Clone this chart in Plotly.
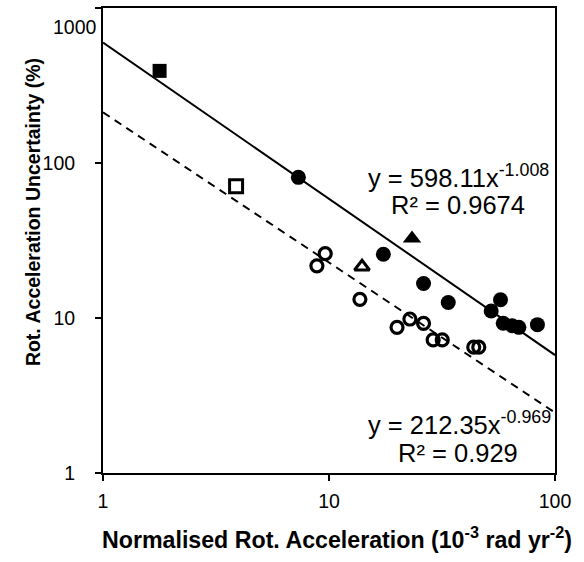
import plotly.graph_objects as go

# ---- data ----
filled_circle_x = [7.32, 17.4, 26.2, 33.7, 57.4, 52.2, 59.0, 64.7, 69.2, 83.6]
filled_circle_y = [80.8, 25.8, 16.7, 12.6, 13.1, 11.1, 9.24, 8.92, 8.70, 9.06]

open_circle_x = [9.62, 8.84, 13.7, 20.0, 22.8, 26.2, 28.9, 31.7, 43.7, 46.0]
open_circle_y = [26.0, 21.7, 13.2, 8.70, 9.85, 9.24, 7.22, 7.22, 6.48, 6.48]

filled_square_x = [1.78]
filled_square_y = [393]
open_square_x = [3.88]
open_square_y = [70.8]

filled_triangle_x = [23.3]
filled_triangle_y = [32.6]
open_triangle_x = [14.0]
open_triangle_y = [21.4]

# power-law fits  y = a * x^b
fit_filled_a, fit_filled_b = 598.11, -1.008
fit_open_a, fit_open_b = 212.35, -0.969
fit_x = [1, 100]

x_tickvals = [1, 10, 100]
x_ticktext = ["1", "10", "100"]
y_tickvals = [1, 10, 100, 1000]
y_ticktext = ["1", "10", "100", ""]

FONT = "Liberation Sans, Arial, Helvetica, sans-serif"

fig = go.Figure()

fig.add_trace(go.Scatter(
    x=fit_x, y=[fit_filled_a * v ** fit_filled_b for v in fit_x],
    mode="lines", line=dict(color="black", width=2), showlegend=False))
fig.add_trace(go.Scatter(
    x=fit_x, y=[fit_open_a * v ** fit_open_b for v in fit_x],
    mode="lines", line=dict(color="black", width=2, dash="8px,6px"), showlegend=False))

def pts(x, y, symbol, size, lw=0):
    fig.add_trace(go.Scatter(
        x=x, y=y, mode="markers", showlegend=False,
        marker=dict(symbol=symbol, size=size, color="black",
                    line=dict(color="black", width=lw))))

pts(open_circle_x, open_circle_y, "circle-open", 12, 3.2)
pts(filled_circle_x, filled_circle_y, "circle", 15)
pts(filled_square_x, filled_square_y, "square", 14)
pts(open_square_x, open_square_y, "square-open", 13, 3)
pts(filled_triangle_x, filled_triangle_y, "triangle-up", 16)
pts(open_triangle_x, open_triangle_y, "triangle-up-open", 13, 3)

L, R, T, B = 103, 29, 6, 89
W, H = 584, 562
pw, ph = W - L - R, H - T - B

def px(x):
    return (x - L) / pw

def py(y):
    return (H - B - y) / ph

anns = [
    ("y = 598.11x<sup>-1.008</sup>", 458, 175, 25.5, 0),
    ("R² = 0.9674", 458, 204, 25.5, 0),
    ("y = 212.35x<sup>-0.969</sup>", 459, 423, 25.5, 0),
    ("R² = 0.929", 458, 453, 25.5, 0),
    ("1000", 75, 25, 19.5, 0),
    ("<b>Normalised Rot. Acceleration (10<sup>-3</sup> rad yr<sup>-2</sup>)</b>", 337, 538, 23.2, 0),
    ("<b>Rot. Acceleration Uncertainty (%)</b>", 33, 211, 19.5, -90),
]
annotations = []
for text, x, y, size, ang in anns:
    annotations.append(dict(
        text=text, x=px(x), y=py(y), xref="paper", yref="paper",
        xanchor="center", yanchor="middle", showarrow=False, textangle=ang,
        font=dict(family=FONT, size=size, color="black")))

axis_common = dict(
    type="log", showgrid=False, zeroline=False, showline=True, mirror=True,
    linecolor="black", linewidth=2, ticks="outside", ticklen=6, tickwidth=2,
    tickcolor="black", tickfont=dict(family=FONT, size=19.5, color="black"))

fig.update_layout(
    width=W, height=H, margin=dict(l=L, r=R, t=T, b=B),
    paper_bgcolor="white", plot_bgcolor="white",
    xaxis=dict(range=[0, 2], tickvals=x_tickvals, ticktext=x_ticktext,
               ticklabelstandoff=4, **axis_common),
    yaxis=dict(range=[0, 3], tickvals=y_tickvals, ticktext=y_ticktext,
               ticklabelstandoff=16, **axis_common),
    annotations=annotations,
    font=dict(family=FONT, color="black"),
)

fig.write_html("out.html", config={"displayModeBar": False},
               post_script="document.body.style.margin='0';")
